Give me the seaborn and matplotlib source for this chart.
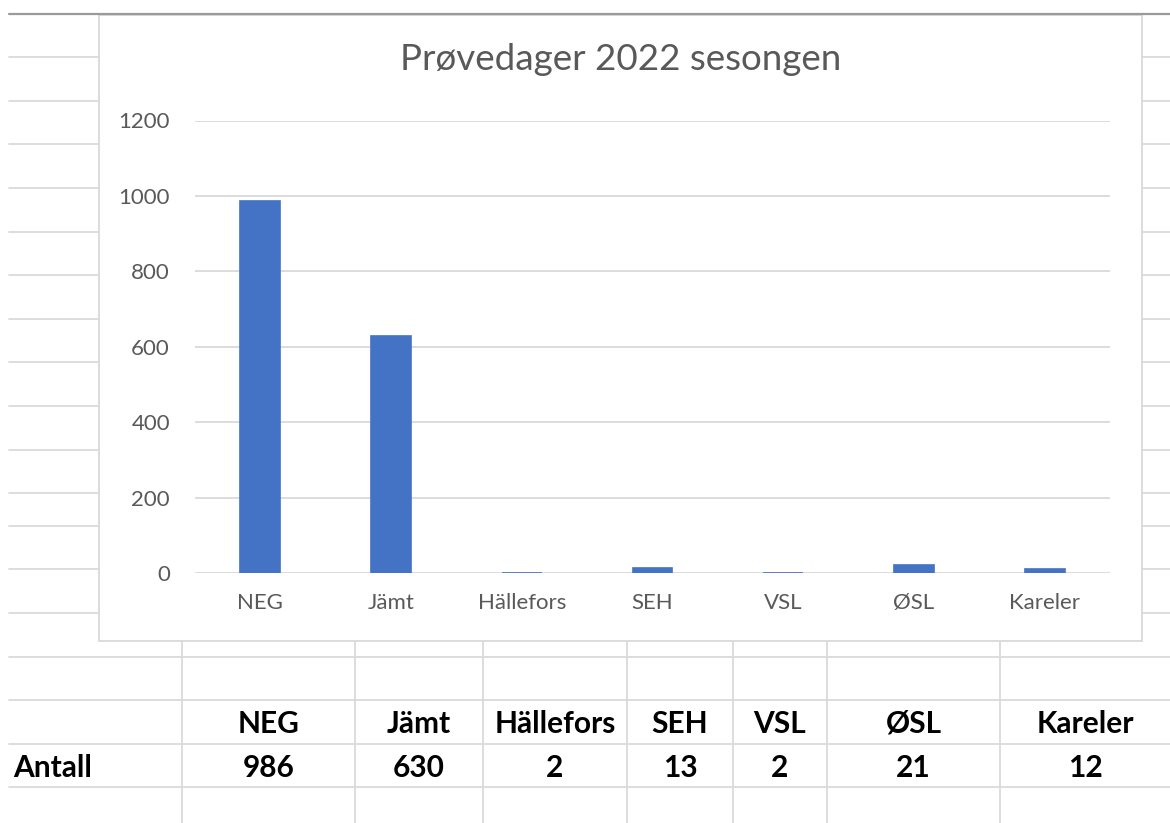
import matplotlib
matplotlib.use("Agg")
import matplotlib.pyplot as plt
import seaborn as sns
from matplotlib.patches import Rectangle

# data
categories = ["NEG", "Jämt", "Hällefors", "SEH", "VSL", "ØSL", "Kareler"]
antall = [986, 630, 2, 13, 2, 21, 12]
y_ticks = [0, 200, 400, 600, 800, 1000, 1200]
title = "Prøvedager 2022 sesongen"
row_label = "Antall"

# layout in pixels (spreadsheet screenshot)
W, H = 1170, 823
sheet_rows = [57.3, 100.7, 144.3, 188.3, 231.7, 275.3, 319, 362.3, 406,
              449.7, 493, 526, 569.3, 613]
table_rows = [657, 700, 744, 787]
table_cols = [182, 355, 483, 627, 733, 827, 1000, 1170]
chart_box = (99, 14, 1142, 641)
plot_box = (195, 120.5, 1110, 573.3)

BAR = "#4472C4"
TXT = "#595959"
GRID = "#D9D9D9"
CELL = "#DADADA"

sns.set_theme(style="white")
plt.rcParams["font.family"] = ["Lato", "DejaVu Sans"]

fig = plt.figure(figsize=(W / 100, H / 100), dpi=100)

# spreadsheet background
bg = fig.add_axes([0, 0, 1, 1])
bg.set_xlim(0, W)
bg.set_ylim(H, 0)
bg.axis("off")
for y in sheet_rows:
    bg.plot([9, chart_box[0]], [y, y], color=CELL, lw=1.3)
    bg.plot([chart_box[2], W], [y, y], color=CELL, lw=1.3)
for y in table_rows:
    bg.plot([9, W], [y, y], color=CELL, lw=1.3)
for x in table_cols[:-1]:
    bg.plot([x, x], [chart_box[3], H], color=CELL, lw=1.3)
bg.plot([9, W], [14, 14], color="#9A9A9A", lw=1.6)
bg.add_patch(Rectangle((chart_box[0], chart_box[1] + 1),
                       chart_box[2] - chart_box[0], chart_box[3] - chart_box[1] - 1,
                       facecolor="white", edgecolor=GRID, lw=1.3))
bg.text((chart_box[0] + chart_box[2]) / 2, 70, title, ha="center", va="baseline",
        fontsize=26.5, color=TXT)

# table under the chart (text on a common baseline per row)
tb_y_head = 733
tb_y_val = 777
bg.text(13, tb_y_val, row_label, ha="left", va="baseline", fontsize=21.5,
        fontweight="bold", color="black")
for i, (cat, val) in enumerate(zip(categories, antall)):
    cx = (table_cols[i] + table_cols[i + 1]) / 2
    bg.text(cx, tb_y_head, cat, ha="center", va="baseline", fontsize=21.5,
            fontweight="bold", color="black")
    bg.text(cx, tb_y_val, str(val), ha="center", va="baseline", fontsize=21.5,
            fontweight="bold", color="black")

# chart
x0, y0, x1, y1 = plot_box
ax = fig.add_axes([x0 / W, 1 - y1 / H, (x1 - x0) / W, (y1 - y0) / H])
ax.patch.set_alpha(0)
sns.barplot(x=categories, y=antall, color=BAR, saturation=1, width=0.305,
            edgecolor=BAR, linewidth=1.2, ax=ax)
ax.set_xlim(-0.5, len(categories) - 0.5)
ax.set_ylim(0, 1200)
ax.set_yticks(y_ticks)
ax.yaxis.grid(True, color=GRID, lw=1.3)
ax.set_axisbelow(True)
sns.despine(ax=ax, left=True, bottom=True)
ax.tick_params(axis="y", length=0, pad=18, labelsize=16, labelcolor=TXT)
ax.tick_params(axis="x", length=0, pad=14, labelsize=16, labelcolor=TXT)
ax.set_xlabel("")
ax.set_ylabel("")

fig.savefig("out.png", dpi=100)
